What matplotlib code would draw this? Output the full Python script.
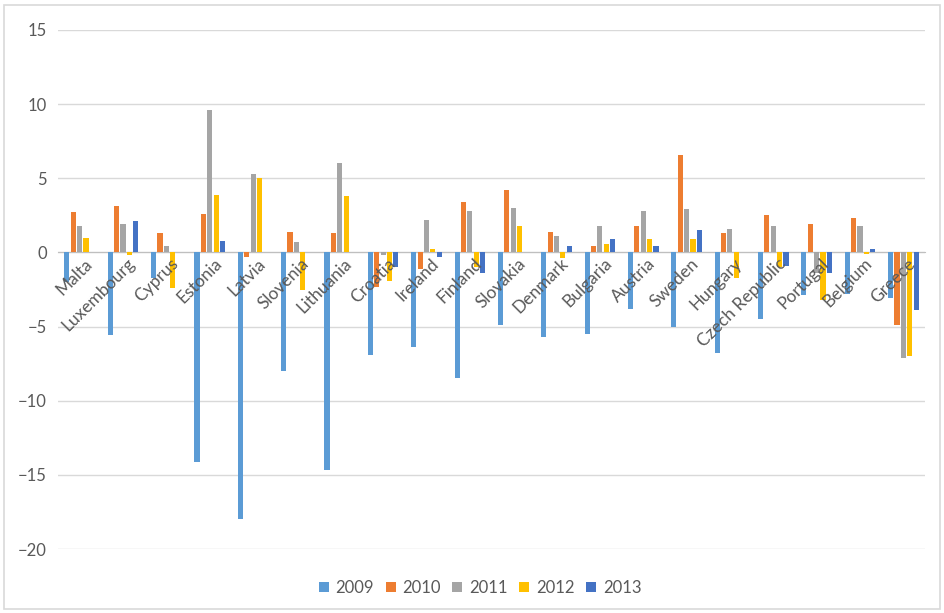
import numpy as np
import matplotlib
matplotlib.use("Agg")
import matplotlib.pyplot as plt
from matplotlib.patches import Rectangle
from matplotlib.transforms import offset_copy

countries = ["Malta", "Luxembourg", "Cyprus", "Estonia", "Latvia", "Slovenia", "Lithuania",
             "Croatia", "Ireland", "Finland", "Slovakia", "Denmark", "Bulgaria", "Austria",
             "Sweden", "Hungary", "Czech Republic", "Portugal", "Belgium", "Greece"]
years = ["2009", "2010", "2011", "2012", "2013"]
v2009 = [-2.0, -5.6, -1.7, -14.1, -18.0, -8.0, -14.7, -6.9, -6.4, -8.5, -4.9, -5.7, -5.5, -3.8,
         -5.0, -6.8, -4.5, -2.9, -2.8, -3.1]
v2010 = [2.7, 3.1, 1.3, 2.6, -0.3, 1.4, 1.3, -2.3, -1.1, 3.4, 4.2, 1.4, 0.4, 1.8,
         6.6, 1.3, 2.5, 1.9, 2.3, -4.9]
v2011 = [1.8, 1.9, 0.4, 9.6, 5.3, 0.7, 6.0, -0.2, 2.2, 2.8, 3.0, 1.1, 1.8, 2.8,
         2.9, 1.6, 1.8, -1.4, 1.8, -7.1]
v2012 = [1.0, -0.2, -2.4, 3.9, 5.0, -2.5, 3.8, -1.9, 0.2, -1.0, 1.8, -0.4, 0.6, 0.9,
         0.9, -1.7, -1.0, -3.2, -0.1, -7.0]
v2013 = [np.nan, 2.1, np.nan, 0.8, np.nan, np.nan, np.nan, -1.0, -0.3, -1.4, np.nan, 0.4, 0.9, 0.4,
         1.5, np.nan, -0.9, -1.4, 0.2, -3.9]
series = [v2009, v2010, v2011, v2012, v2013]
colors = ["#5B9BD5", "#ED7D31", "#A5A5A5", "#FFC000", "#4472C4"]

txt = "#595959"
plt.rcParams['font.family'] = ['Lato', 'DejaVu Sans']

fig = plt.figure(figsize=(9.45, 6.13), dpi=100)
fig.patches.append(Rectangle((4/945, 4/613), 1 - 9/945, 1 - 9/613, transform=fig.transFigure,
                             fill=False, edgecolor="#d9d9d9", linewidth=1.2))
ax = fig.add_axes([58/945, 1 - 549/613, (925 - 58)/945, (549 - 30)/613])

x = np.arange(len(countries))
step = 0.147
bw = 0.118
for i, (vals, c, yr) in enumerate(zip(series, colors, years)):
    ax.bar(x + (i - 2) * step, vals, width=bw, color=c, edgecolor="none",
           label=yr, zorder=3)

ax.set_ylim(-20, 15)
ax.set_xlim(-0.5, len(countries) - 0.5)
ax.set_yticks(np.arange(-20, 16, 5))
ax.yaxis.grid(True, color="#d9d9d9", linewidth=1)
ax.set_axisbelow(True)
for s in ["top", "right", "left"]:
    ax.spines[s].set_visible(False)
ax.spines["bottom"].set_position(("data", 0))
ax.spines["bottom"].set_color("#bfbfbf")
ax.tick_params(axis="y", length=0, pad=8, labelsize=12, labelcolor=txt)
ax.set_xticks(x)
ax.set_xticklabels([])
ax.tick_params(axis="x", length=0)

lab_tr = offset_copy(ax.transData, fig=fig, x=4, y=-3, units="dots")
for xi, name in zip(x, countries):
    ax.text(xi, 0, name, rotation=45, ha="right", va="top", rotation_mode="anchor",
            fontsize=12.5, color=txt, transform=lab_tr, zorder=6, clip_on=False)

handles, labels = ax.get_legend_handles_labels()
leg = fig.legend(handles, labels, loc="center", bbox_to_anchor=(480/945, 1 - 588/613), ncol=5,
                 frameon=False, fontsize=12, handlelength=0.6, handleheight=0.6,
                 handletextpad=0.4, columnspacing=0.7, labelcolor=txt)
for h in leg.legend_handles:
    h.set_edgecolor("none")

fig.savefig("out.png", dpi=100)
